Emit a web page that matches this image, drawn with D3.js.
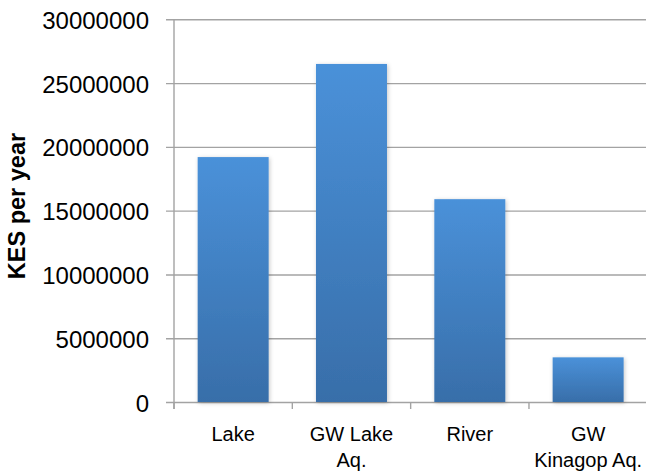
<!DOCTYPE html>
<html>
<head>
<meta charset="utf-8">
<script src="https://cdn.jsdelivr.net/npm/d3@7"></script>
<style>
  html, body { margin: 0; padding: 0; background: #fff; }
  svg { display: block; }
  text { font-family: "Liberation Sans", Arial, sans-serif; fill: #000; }
</style>
</head>
<body>
<svg id="chart" width="646" height="473"></svg>
<script>
// Annual value by water source (KES per year)
const categories = [["Lake"], ["GW Lake", "Aq."], ["River"], ["GW", "Kinagop Aq."]];
const values = [19200000, 26500000, 15900000, 3500000];
const yTicks = [0, 5000000, 10000000, 15000000, 20000000, 25000000, 30000000];
const yTitle = "KES per year";

const svg = d3.select("#chart");
const plotLeft = 174, plotRight = 647.3, plotTop = 19.3, plotBottom = 402;

const keys = categories.map(c => c.join(" "));
const x = d3.scaleBand().domain(keys).range([plotLeft, plotRight]).paddingInner(0.4).paddingOuter(0.2);
const y = d3.scaleLinear().domain([0, 30000000]).range([plotBottom, plotTop]);

// Bar fill gradient and soft shadow
const defs = svg.append("defs");
const grad = defs.append("linearGradient").attr("id", "barFill")
  .attr("x1", 0).attr("y1", 0).attr("x2", 0).attr("y2", 1);
grad.append("stop").attr("offset", "0%").attr("stop-color", "#4a91d9");
grad.append("stop").attr("offset", "100%").attr("stop-color", "#386ea9");
const shadow = defs.append("filter").attr("id", "barShadow")
  .attr("x", "-20%").attr("y", "-20%").attr("width", "140%").attr("height", "140%");
shadow.append("feDropShadow").attr("dx", 1).attr("dy", 1).attr("stdDeviation", 2)
  .attr("flood-color", "#000").attr("flood-opacity", 0.22);

// Y axis with full-width gridlines
const yAxis = svg.append("g").attr("transform", `translate(${plotLeft},0)`)
  .call(d3.axisLeft(y).tickValues(yTicks).tickFormat(d3.format("d"))
    .tickSizeInner(-(plotRight - plotLeft)).tickSizeOuter(0).tickPadding(25));
yAxis.select(".domain").remove();
yAxis.selectAll(".tick line").attr("x1", -8).attr("stroke", "#a3a3a3").attr("stroke-width", 1.4);
yAxis.selectAll(".tick text").attr("font-size", 24).attr("dy", "0.38em")
  .attr("font-family", "'Liberation Sans', Arial, sans-serif");

// Vertical axis line
svg.append("line").attr("x1", plotLeft).attr("x2", plotLeft).attr("y1", plotTop).attr("y2", plotBottom + 7)
  .attr("stroke", "#a3a3a3").attr("stroke-width", 1.4);

// Category boundary ticks
const gap = x.step() - x.bandwidth();
const bounds = keys.map(k => x(k) - gap / 2).concat([x(keys[keys.length - 1]) + x.bandwidth() + gap / 2]);
svg.append("g").selectAll("line").data(bounds).join("line")
  .attr("x1", d => d).attr("x2", d => d).attr("y1", plotBottom).attr("y2", plotBottom + 7)
  .attr("stroke", "#a3a3a3").attr("stroke-width", 1.4);

// Bars
svg.append("g").selectAll("rect").data(values).join("rect")
  .attr("x", (d, i) => x(keys[i]))
  .attr("y", d => y(d))
  .attr("width", x.bandwidth())
  .attr("height", d => y(0) - y(d))
  .attr("fill", "url(#barFill)")
  .attr("filter", "url(#barShadow)");

// Category labels (two lines where wrapped)
const labels = svg.append("g").selectAll("text").data(categories).join("text")
  .attr("text-anchor", "middle").attr("font-size", 20)
  .attr("x", (d, i) => x(keys[i]) + x.bandwidth() / 2)
  .attr("y", 441);
labels.selectAll("tspan").data(d => d).join("tspan")
  .attr("x", function () { return this.parentNode.getAttribute("x"); })
  .attr("dy", (d, i) => i === 0 ? 0 : 25.5)
  .text(d => d);

// Y axis title
svg.append("text")
  .attr("transform", "translate(25,206) rotate(-90)")
  .attr("text-anchor", "middle").attr("font-size", 23.5).attr("font-weight", "bold")
  .text(yTitle);
</script>
</body>
</html>
